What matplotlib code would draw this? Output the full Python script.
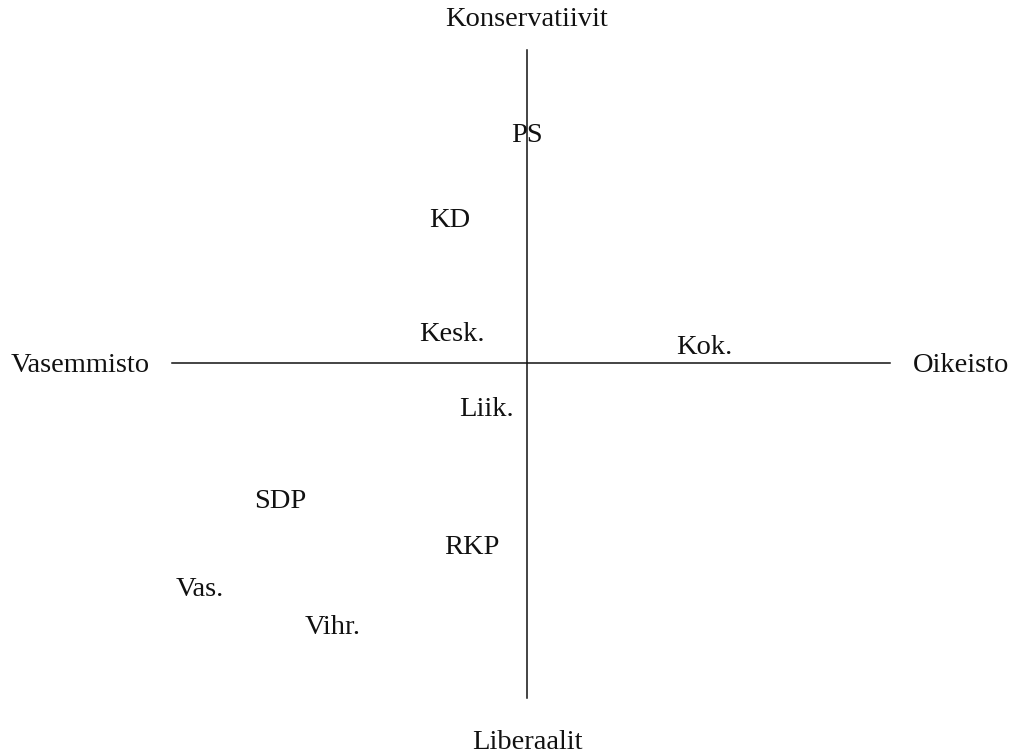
import matplotlib.pyplot as plt

# party positions on the compass (economic left-right, conservative-liberal)
parties = ["PS", "KD", "Kesk.", "Kok.", "Liik.", "SDP", "RKP", "Vas.", "Vihr."]
econ = [0.0, -2.2, -2.14, 5.07, -1.17, -7.06, -1.57, -9.34, -5.54]
values = [6.5, 4.07, 0.8, 0.43, -1.32, -3.97, -5.26, -6.46, -7.55]

# axis ends
x_axis = [-10.14, 10.37]
y_axis = [-9.57, 8.94]

# pole labels
poles = ["Konservatiivit", "Liberaalit", "Vasemmisto", "Oikeisto"]
pole_x = [0.0, 0.0, -12.77, 12.4]
pole_y = [9.8, -10.83, -0.06, -0.06]

fig = plt.figure(figsize=(10.12, 7.55), dpi=100)
ax = fig.add_axes([0, 0, 1, 1])
ax.set_xlim(-527 / 35, 485 / 35)
ax.set_ylim(-392 / 35, 363 / 35)
ax.axis("off")

ax.plot(x_axis, [0, 0], color="#111111", lw=1.1)
ax.plot([0, 0], y_axis, color="#111111", lw=1.1)

font = dict(family="Liberation Serif", fontsize=20.5, color="#111111",
            ha="center", va="center")

for name, px, py in zip(parties, econ, values):
    ax.text(px, py, name, **font)

for name, px, py in zip(poles, pole_x, pole_y):
    ax.text(px, py, name, **font)

fig.savefig("out.png", dpi=100)
